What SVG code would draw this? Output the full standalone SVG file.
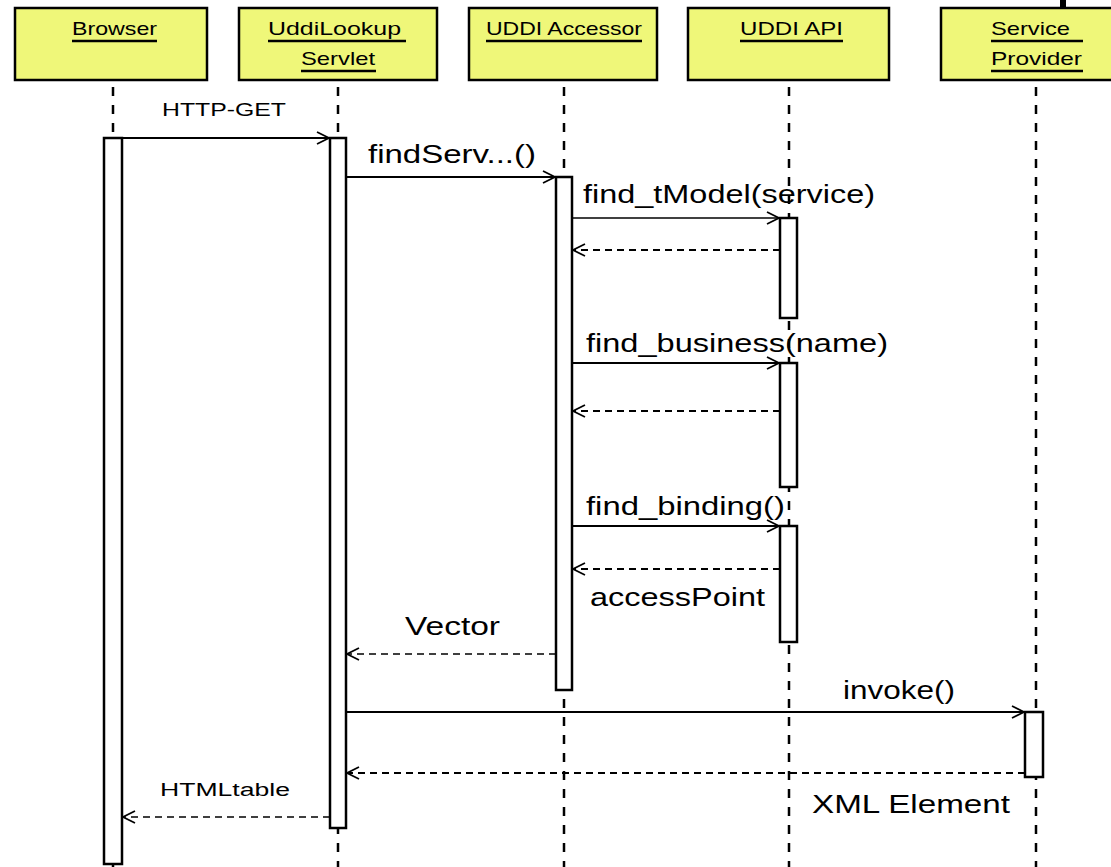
<svg xmlns="http://www.w3.org/2000/svg" width="1111" height="867" viewBox="0 0 1111 867">
<defs>
<style>
.box{fill:#eff779;stroke:#000;stroke-width:2.5}
.hdr{font-family:"Liberation Sans",Arial,sans-serif;font-size:19px;fill:#000}
.ul{stroke:#000;stroke-width:2.5}
.life{stroke:#000;stroke-width:2.5;stroke-dasharray:9 9;fill:none}
.act{fill:#fff;stroke:#000;stroke-width:2.5}
.msg{stroke:#000;stroke-width:2.2;fill:none;marker-end:url(#open)}
.ret{stroke:#000;stroke-width:1.8;stroke-dasharray:7 5;fill:none;marker-end:url(#open)}
.lbl{font-family:"Liberation Sans",Arial,sans-serif;font-size:26px;fill:#000}
.sml{font-family:"Liberation Sans",Arial,sans-serif;font-size:18px;fill:#000}
</style>
<marker id="open" markerWidth="16" markerHeight="14" viewBox="-14 -7 16 14" refX="0" refY="0" orient="auto" markerUnits="userSpaceOnUse">
<path d="M-12,-6 L0,0 L-12,6" fill="none" stroke="#000" stroke-width="1.8"/>
</marker>
</defs>
<rect x="0" y="0" width="1111" height="867" fill="#fff"/>
<rect x="1060" y="0" width="6" height="7" fill="#000"/>

<g id="lifelines">
<line class="life" x1="113" y1="87" x2="113" y2="867"/>
<line class="life" x1="338" y1="87" x2="338" y2="867"/>
<line class="life" x1="564" y1="87" x2="564" y2="867"/>
<line class="life" x1="789" y1="87" x2="789" y2="867"/>
<line class="life" x1="1036" y1="87" x2="1036" y2="867"/>
</g>

<g id="browser">
<rect class="box" x="15" y="8" width="192" height="72"/>
<text class="hdr" x="72" y="35" textLength="85" lengthAdjust="spacingAndGlyphs">Browser</text>
<line class="ul" x1="72" y1="41" x2="157" y2="41"/>
<rect class="act" x="104" y="138" width="18" height="726"/>
</g>
<g id="servlet">
<rect class="box" x="239" y="8" width="198" height="72"/>
<text class="hdr" x="268" y="35" textLength="133" lengthAdjust="spacingAndGlyphs">UddiLookup</text>
<line class="ul" x1="268" y1="41" x2="406" y2="41"/>
<text class="hdr" x="301" y="65" textLength="74" lengthAdjust="spacingAndGlyphs">Servlet</text>
<line class="ul" x1="301" y1="71" x2="376" y2="71"/>
<rect class="act" x="330" y="138" width="16" height="690"/>
</g>
<g id="accessor">
<rect class="box" x="469" y="8" width="188" height="72"/>
<text class="hdr" x="486" y="35" textLength="156" lengthAdjust="spacingAndGlyphs">UDDI Accessor</text>
<line class="ul" x1="486" y1="41" x2="642" y2="41"/>
<rect class="act" x="556" y="177" width="16" height="513"/>
</g>
<g id="uddiapi">
<rect class="box" x="688" y="8" width="201" height="72"/>
<text class="hdr" x="740" y="35" textLength="103" lengthAdjust="spacingAndGlyphs">UDDI API</text>
<line class="ul" x1="740" y1="41" x2="843" y2="41"/>
<rect class="act" x="780" y="218" width="17" height="100"/>
<rect class="act" x="780" y="363" width="17" height="124"/>
<rect class="act" x="780" y="526" width="17" height="116"/>
</g>
<g id="provider">
<rect class="box" x="941" y="8" width="180" height="72"/>
<text class="hdr" x="991" y="35" textLength="79" lengthAdjust="spacingAndGlyphs">Service</text>
<line class="ul" x1="991" y1="41" x2="1083" y2="41"/>
<text class="hdr" x="991" y="65" textLength="91" lengthAdjust="spacingAndGlyphs">Provider</text>
<line class="ul" x1="991" y1="71" x2="1083" y2="71"/>
<rect class="act" x="1025" y="712" width="18" height="65"/>
</g>

<g id="connectors">
<line class="msg" x1="122" y1="138" x2="329" y2="138"/>
<line class="msg" x1="346" y1="177" x2="555" y2="177"/>
<line class="msg" x1="572" y1="218" x2="779" y2="218" style="stroke-width:1.5"/>
<line class="ret" x1="780" y1="250" x2="573" y2="250"/>
<line class="msg" x1="572" y1="363" x2="779" y2="363"/>
<line class="ret" x1="780" y1="411" x2="573" y2="411"/>
<line class="msg" x1="572" y1="526" x2="779" y2="526"/>
<line class="ret" x1="780" y1="569" x2="573" y2="569"/>
<line class="ret" x1="556" y1="654" x2="347" y2="654" style="stroke-width:1.3"/>
<line class="msg" x1="346" y1="712" x2="1024" y2="712"/>
<line class="ret" x1="1025" y1="773" x2="347" y2="773"/>
<line class="ret" x1="330" y1="817" x2="123" y2="817" style="stroke-width:1.3"/>
</g>

<g id="labels">
<text class="sml" x="162" y="116" textLength="124" lengthAdjust="spacingAndGlyphs">HTTP-GET</text>
<text class="lbl" x="368" y="163" textLength="168" lengthAdjust="spacingAndGlyphs">findServ...()</text>
<text class="lbl" x="583" y="203" textLength="292" lengthAdjust="spacingAndGlyphs">find_tModel(service)</text>
<text class="lbl" x="586" y="352" textLength="302" lengthAdjust="spacingAndGlyphs">find_business(name)</text>
<text class="lbl" x="586" y="515" textLength="199" lengthAdjust="spacingAndGlyphs">find_binding()</text>
<text class="lbl" x="590" y="606" textLength="175" lengthAdjust="spacingAndGlyphs">accessPoint</text>
<text class="lbl" x="405" y="635" textLength="95" lengthAdjust="spacingAndGlyphs">Vector</text>
<text class="lbl" x="843" y="699" textLength="112" lengthAdjust="spacingAndGlyphs">invoke()</text>
<text class="lbl" x="812" y="813" textLength="198" lengthAdjust="spacingAndGlyphs">XML Element</text>
<text class="sml" x="160" y="796" textLength="130" lengthAdjust="spacingAndGlyphs">HTMLtable</text>
</g>
</svg>
